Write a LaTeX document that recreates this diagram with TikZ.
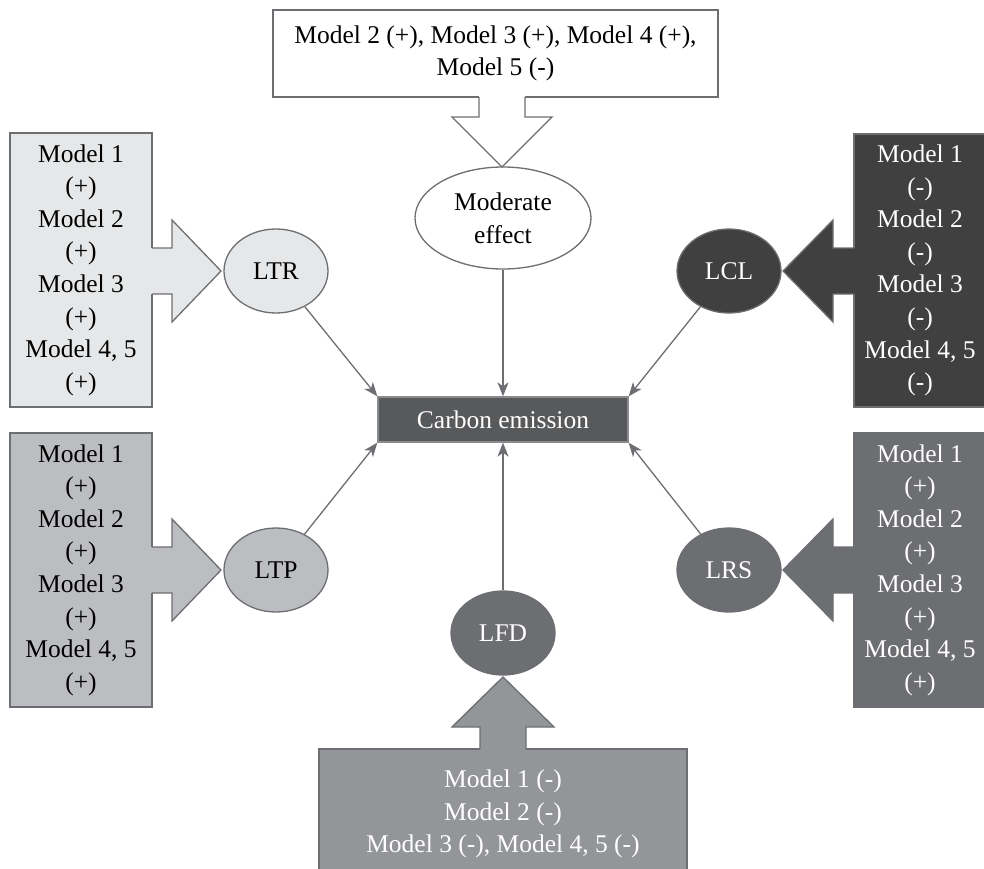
\documentclass[tikz,border=0pt]{standalone}
\usepackage{fontspec}
\setmainfont{Liberation Serif}
\usetikzlibrary{shapes.geometric,arrows.meta}
\definecolor{edgegrey}{HTML}{6D6E71}
\definecolor{paleg}{HTML}{E6E7E8}
\definecolor{lightg}{HTML}{BCBDC0}
\definecolor{midg}{HTML}{939598}
\definecolor{darkg}{HTML}{6D6E71}
\definecolor{coreg}{HTML}{58595B}
\definecolor{deepg}{HTML}{404041}
\definecolor{rimg}{HTML}{8A8B8E}
\begin{document}
\begin{tikzpicture}[x=1pt,y=-1pt,
  every node/.style={font=\fontsize{25.5}{32.6}\selectfont, inner sep=0pt, align=center},
  panel/.style={rectangle, draw=edgegrey, line width=1.3pt},
  oval/.style={ellipse, draw=edgegrey, line width=1.3pt, minimum width=104pt, minimum height=84pt},
  outline/.style={draw=edgegrey, line width=1.3pt, line join=miter},
  conn/.style={draw=edgegrey, line width=1.3pt, -{Stealth[length=14pt,width=11pt,inset=4pt]}}]
\useasboundingbox (0,0) rectangle (984,868);

% central outcome
\node[panel, draw=rimg, fill=coreg, text=white, minimum width=250pt, minimum height=45pt] (carbon) at (503,419.5) {Carbon emission};

% factor ellipses
\node[oval, fill=white, minimum width=176pt, minimum height=102pt] (mod) at (503,218) {Moderate\\effect};
\node[oval, fill=paleg] (ltr) at (276,271) {LTR};
\node[oval, fill=lightg] (ltp) at (276,570) {LTP};
\node[oval, fill=deepg, text=white] (lcl) at (729,271) {LCL};
\node[oval, fill=darkg, text=white] (lrs) at (729,570) {LRS};
\node[oval, fill=darkg, text=white] (lfd) at (503,633) {LFD};

% result panels
\node[panel, fill=white, minimum width=445pt, minimum height=87pt] (topbox) at (495.5,53.5)
  {Model 2 (+), Model 3 (+), Model 4 (+),\\Model 5 (-)};
\node[panel, fill=paleg, minimum width=142pt, minimum height=274pt] (ltrbox) at (81,270)
  {Model 1\\(+)\\Model 2\\(+)\\Model 3\\(+)\\Model 4, 5\\(+)};
\node[panel, fill=lightg, minimum width=142pt, minimum height=274pt] (ltpbox) at (81,570)
  {Model 1\\(+)\\Model 2\\(+)\\Model 3\\(+)\\Model 4, 5\\(+)};
\node[panel, fill=deepg, text=white, minimum width=132pt, minimum height=273pt] (lclbox) at (920,270.5)
  {Model 1\\(-)\\Model 2\\(-)\\Model 3\\(-)\\Model 4, 5\\(-)};
\node[panel, fill=darkg, text=white, minimum width=132pt, minimum height=274pt] (lrsbox) at (920,570)
  {Model 1\\(+)\\Model 2\\(+)\\Model 3\\(+)\\Model 4, 5\\(+)};
\node[panel, fill=midg, text=white, minimum width=368pt, minimum height=130pt] (lfdbox) at (503,814)
  {Model 1 (-)\\Model 2 (-)\\Model 3 (-), Model 4, 5 (-)};

% block arrows from panels to factors
\fill[white] (479,96) -- (479,117) -- (452,117) -- (502,167) -- (552,117) -- (525,117) -- (525,96) -- cycle;
\draw[outline] (479,97) -- (479,117) -- (452,117) -- (502,167) -- (552,117) -- (525,117) -- (525,97);

\fill[paleg] (151,248) -- (172,248) -- (172,220) -- (221,271) -- (172,322) -- (172,294) -- (151,294) -- cycle;
\draw[outline] (152,248) -- (172,248) -- (172,220) -- (221,271) -- (172,322) -- (172,294) -- (152,294);

\fill[lightg] (151,547) -- (172,547) -- (172,519) -- (221,570) -- (172,621) -- (172,593) -- (151,593) -- cycle;
\draw[outline] (152,547) -- (172,547) -- (172,519) -- (221,570) -- (172,621) -- (172,593) -- (152,593);

\fill[deepg] (855,248) -- (833,248) -- (833,220) -- (783,271) -- (833,322) -- (833,294) -- (855,294) -- cycle;
\draw[outline] (854,248) -- (833,248) -- (833,220) -- (783,271) -- (833,322) -- (833,294) -- (854,294);

\fill[darkg] (855,547) -- (833,547) -- (833,519) -- (783,570) -- (833,621) -- (833,593) -- (855,593) -- cycle;
\draw[outline] (854,547) -- (833,547) -- (833,519) -- (783,570) -- (833,621) -- (833,593) -- (854,593);

\fill[midg] (480,750) -- (480,727) -- (452,727) -- (503,677) -- (554,727) -- (526,727) -- (526,750) -- cycle;
\draw[outline] (480,749) -- (480,727) -- (452,727) -- (503,677) -- (554,727) -- (526,727) -- (526,749);

% effects on carbon emission
\draw[conn] (ltr) -- (carbon.north west);
\draw[conn] (mod) -- (carbon.north);
\draw[conn] (lcl) -- (carbon.north east);
\draw[conn] (ltp) -- (carbon.south west);
\draw[conn] (lfd) -- (carbon.south);
\draw[conn] (lrs) -- (carbon.south east);
\end{tikzpicture}
\end{document}
